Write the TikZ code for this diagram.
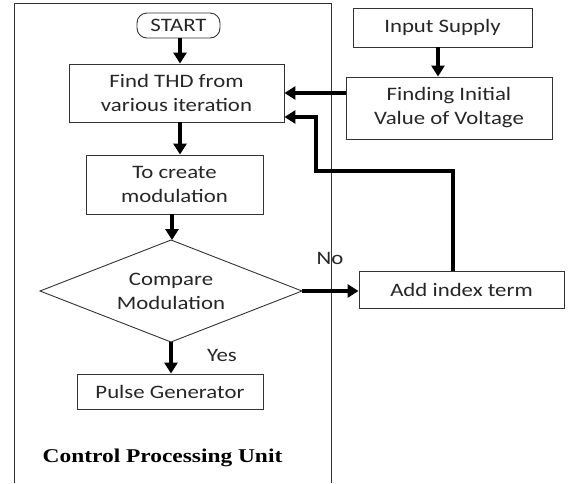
\documentclass[tikz,border=0pt]{standalone}
\usepackage{fontspec}
\setmainfont[FakeStretch=1.2]{Carlito}
\newfontfamily\cpuserif[FakeStretch=1.2]{Liberation Serif}
\usetikzlibrary{arrows.meta,calc}
\begin{document}
\begin{tikzpicture}[x=1pt,y=-1pt,
  every node/.style={font=\fontsize{19}{24}\selectfont, text=black!85, align=center, inner sep=0pt},
  box/.style={draw=black!80, line width=0.9pt},
  flow/.style={line width=3.4pt, -{Triangle[length=11pt,width=13pt]}}]
\useasboundingbox (0,0) rectangle (570,483);
% frame
\draw[line width=1pt, black!80] (14,483) -- (14,3) -- (331,3) -- (331,483);
% nodes
\node[box, rounded corners=10pt, minimum width=83pt, minimum height=25pt] (start) at (178.5,25.5) {START};
\node[box, minimum width=215pt, minimum height=58pt] (thd) at (176.5,93) {Find THD from\\various iteration};
\node[box, minimum width=177pt, minimum height=59pt] (mod) at (174.5,184.5) {To create\\modulation};
\node (cmp) at (171,291) {Compare\\Modulation};
\coordinate (cmpT) at (171,240);
\coordinate (cmpB) at (171,342);
\coordinate (cmpL) at (40,291);
\coordinate (cmpR) at (302,291);
\draw[black!80, line width=0.9pt] (cmpT) -- (cmpR) -- (cmpB) -- (cmpL) -- cycle;
\node[box, minimum width=186pt, minimum height=35pt] (pulse) at (170,391.5) {Pulse Generator};
\node[box, minimum width=179pt, minimum height=39pt] (input) at (442.5,27.5) {Input Supply};
\node[box, minimum width=206pt, minimum height=62pt] (init) at (449,108) {Finding Initial\\Value of Voltage};
\node[box, minimum width=205pt, minimum height=37pt] (add) at (461.5,289.5) {Add index term};
\node (no) at (330,258) {No};
\node (yes) at (222,355) {Yes};
\node[font=\cpuserif\bfseries\fontsize{19.5}{24}\selectfont, text=black] (cpu) at (162.5,458) {Control Processing Unit};
% connectors
\draw[flow] (start.south -| 180,0) -- (thd.north -| 180,0);
\draw[flow] (thd.south -| 180,0) -- (mod.north -| 180,0);
\draw[flow] (mod.south -| 172,0) -- (cmpT -| 172,0);
\draw[flow] (cmpB) -- (pulse.north -| cmpB);
\draw[flow] (input.south -| 438,0) -- (init.north -| 438,0);
\draw[flow] (init.west |- 0,93) -- (thd.east |- 0,93);
\draw[flow] (cmpR) -- (add.west |- cmpR);
\coordinate (fb1) at (453,171);
\coordinate (fb2) at (316,171);
\coordinate (fb3) at (316,117);
\draw[flow] (add.north -| fb1) -- (fb1) -- (fb2) -- (fb3) -- (thd.east |- fb3);
\end{tikzpicture}
\end{document}
